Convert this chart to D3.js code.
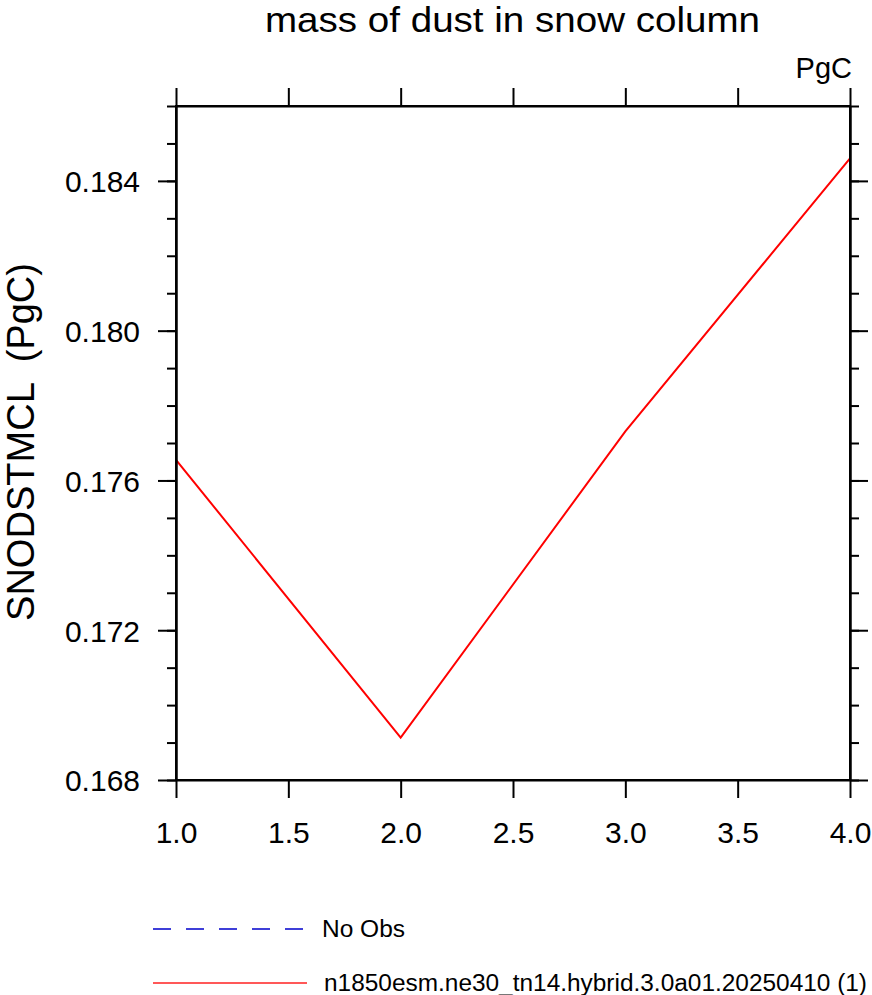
<!DOCTYPE html>
<html>
<head>
<meta charset="utf-8">
<script src="https://cdn.jsdelivr.net/npm/d3@7/dist/d3.min.js"></script>
<style>
  html, body { margin: 0; padding: 0; background: #fff; }
  svg { display: block; }
  text { font-family: "Liberation Sans", Arial, Helvetica, sans-serif; fill: #000; }
</style>
</head>
<body>
<svg id="chart" width="872" height="995"></svg>
<script>
// ---- data ----
const years = [1, 2, 3, 4];
const values = [0.17655, 0.16913, 0.17731, 0.18460];
const xTicks = [1.0, 1.5, 2.0, 2.5, 3.0, 3.5, 4.0];
const xTickLabels = ["1.0", "1.5", "2.0", "2.5", "3.0", "3.5", "4.0"];
const yMajorTicks = [0.168, 0.172, 0.176, 0.180, 0.184];
const yTickLabels = ["0.168", "0.172", "0.176", "0.180", "0.184"];
const yMinorTicks = [0.168, 0.169, 0.170, 0.171, 0.172, 0.173, 0.174, 0.175, 0.176,
                     0.177, 0.178, 0.179, 0.180, 0.181, 0.182, 0.183, 0.184, 0.185, 0.186];
const title = "mass of dust in snow column";
const yLabel = "SNODSTMCL  (PgC)";
const unitsLabel = "PgC";
const legendNames = ["No Obs", "n1850esm.ne30_tn14.hybrid.3.0a01.20250410 (1)"];

// ---- layout ----
const svg = d3.select("#chart");
const L = 176, R = 850, T = 106, B = 780;
const x = d3.scaleLinear().domain([1, 4]).range([L, R]);
const y = d3.scaleLinear().domain([0.168, 0.186]).range([B, T]);

// data line
svg.append("path")
  .datum(years.map((d, i) => [d, values[i]]))
  .attr("fill", "none")
  .attr("stroke", "#ff0000")
  .attr("stroke-width", 2)
  .attr("d", d3.line().x(d => x(d[0])).y(d => y(d[1])));

const fmtX = (d, i) => xTickLabels[i];
const fmtY = (d, i) => yTickLabels[i];

function styleAxis(g) {
  g.selectAll("path.domain").attr("stroke", "#000").attr("stroke-width", 2);
  g.selectAll(".tick line").attr("stroke", "#000").attr("stroke-width", 2);
}

// bottom
const gB = svg.append("g").attr("transform", `translate(0,${B})`)
  .call(d3.axisBottom(x).tickValues(xTicks).tickFormat(fmtX).tickSize(18).tickSizeOuter(0));
styleAxis(gB);
gB.selectAll(".tick text").attr("font-size", 30).attr("font-family", "Liberation Sans, Arial, sans-serif")
  .attr("fill", "#000").attr("dy", null).attr("y", 63);

// top
const gT = svg.append("g").attr("transform", `translate(0,${T})`)
  .call(d3.axisTop(x).tickValues(xTicks).tickFormat("").tickSize(18).tickSizeOuter(0));
styleAxis(gT);

// left minor + major
const gLm = svg.append("g").attr("transform", `translate(${L},0)`)
  .call(d3.axisLeft(y).tickValues(yMinorTicks).tickFormat("").tickSize(9).tickSizeOuter(0));
styleAxis(gLm);
const gL = svg.append("g").attr("transform", `translate(${L},0)`)
  .call(d3.axisLeft(y).tickValues(yMajorTicks).tickFormat(fmtY).tickSize(18).tickSizeOuter(0));
styleAxis(gL);
gL.selectAll(".tick text").attr("font-size", 30).attr("font-family", "Liberation Sans, Arial, sans-serif")
  .attr("fill", "#000").attr("x", -36).attr("dy", "0.36em");

// right minor + major
const gRm = svg.append("g").attr("transform", `translate(${R},0)`)
  .call(d3.axisRight(y).tickValues(yMinorTicks).tickFormat("").tickSize(9).tickSizeOuter(0));
styleAxis(gRm);
const gR = svg.append("g").attr("transform", `translate(${R},0)`)
  .call(d3.axisRight(y).tickValues(yMajorTicks).tickFormat("").tickSize(18).tickSizeOuter(0));
styleAxis(gR);

// frame
svg.append("rect").attr("x", L).attr("y", T).attr("width", R - L).attr("height", B - T)
  .attr("fill", "none").attr("stroke", "#000").attr("stroke-width", 2);

// title
svg.append("text").attr("x", 265).attr("y", 32)
  .attr("font-size", 35).attr("textLength", 495).attr("lengthAdjust", "spacingAndGlyphs")
  .text(title);

// units
svg.append("text").attr("x", 852).attr("y", 78)
  .attr("text-anchor", "end").attr("font-size", 29).text(unitsLabel);

// y label
svg.append("text").attr("transform", `translate(34,442) rotate(-90)`)
  .attr("text-anchor", "middle").attr("font-size", 38)
  .attr("textLength", 358).attr("lengthAdjust", "spacingAndGlyphs")
  .style("white-space", "pre").text(yLabel);

// legend
const legY = [929, 983];
svg.append("line").attr("x1", 153).attr("x2", 305).attr("y1", legY[0]).attr("y2", legY[0])
  .attr("stroke", "#0000cc").attr("stroke-width", 1.3).attr("stroke-dasharray", "18,15");
svg.append("line").attr("x1", 153).attr("x2", 307).attr("y1", legY[1]).attr("y2", legY[1])
  .attr("stroke", "#ff2020").attr("stroke-width", 1.4);
const legLen = [83, 543];
legendNames.forEach((n, i) => {
  svg.append("text").attr("x", i === 0 ? 322 : 324).attr("y", legY[i] + 7.5)
    .attr("font-size", 23).attr("textLength", legLen[i]).attr("lengthAdjust", "spacingAndGlyphs")
    .text(n);
});
</script>
</body>
</html>
